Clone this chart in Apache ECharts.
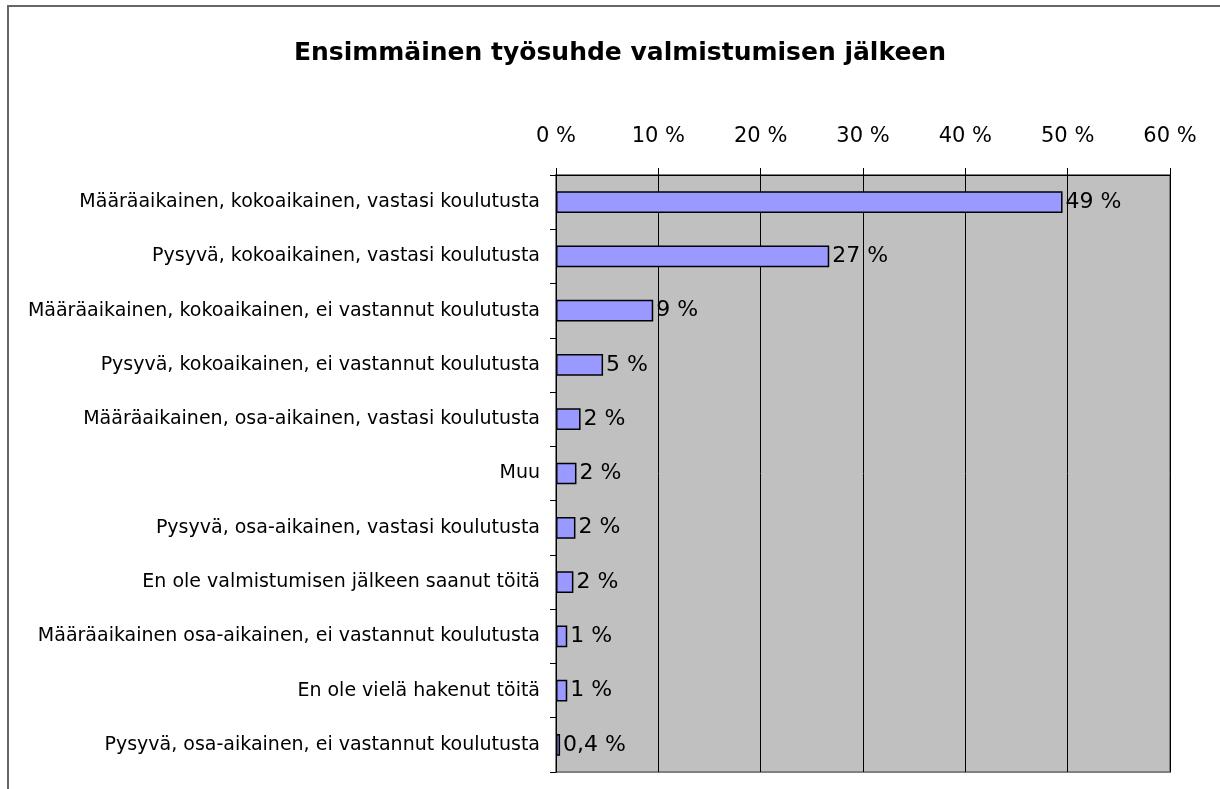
<!DOCTYPE html>
<html>
<head>
<meta charset="utf-8">
<script src="https://cdn.jsdelivr.net/npm/echarts@6/dist/echarts.min.js"></script>
<style>
  html, body { margin: 0; padding: 0; background: #fff; }
  #chart { width: 1220px; height: 789px; }
  .frame {
    position: absolute; left: 7px; top: 5px; right: 0; bottom: 0;
    border-left: 2px solid #666; border-top: 2px solid #666;
    pointer-events: none;
  }
</style>
</head>
<body>
<div id="chart"></div>
<div class="frame"></div>
<script>
// luokat ylhäältä alas
const categories = [
  'Määräaikainen, kokoaikainen, vastasi koulutusta',
  'Pysyvä, kokoaikainen, vastasi koulutusta',
  'Määräaikainen, kokoaikainen, ei vastannut koulutusta',
  'Pysyvä, kokoaikainen, ei vastannut koulutusta',
  'Määräaikainen, osa-aikainen, vastasi koulutusta',
  'Muu',
  'Pysyvä, osa-aikainen, vastasi koulutusta',
  'En ole valmistumisen jälkeen saanut töitä',
  'Määräaikainen osa-aikainen, ei vastannut koulutusta',
  'En ole vielä hakenut töitä',
  'Pysyvä, osa-aikainen, ei vastannut koulutusta'
]
const values = [49.5, 26.7, 9.5, 4.6, 2.4, 2.0, 1.9, 1.7, 1.1, 1.1, 0.4]
const valueLabels = ['49 %', '27 %', '9 %', '5 %', '2 %', '2 %', '2 %', '2 %', '1 %', '1 %', '0,4 %']
const tickValues = [0, 10, 20, 30, 40, 50, 60]

const chart = echarts.init(document.getElementById('chart'))

chart.setOption({
  animation: false,
  title: {
    text: 'Ensimmäinen työsuhde valmistumisen jälkeen',
    left: 615,
    textAlign: 'center',
    top: 36,
    textStyle: {
      fontFamily: 'DejaVu Sans',
      fontWeight: 'bold',
      fontSize: 25,
      color: '#000'
    }
  },
  grid: {
    left: 556,
    right: 50,
    top: 175,
    bottom: 17,
    show: true,
    backgroundColor: '#C0C0C0',
    borderColor: '#808080',
    borderWidth: 2
  },
  xAxis: {
    type: 'value',
    position: 'top',
    min: 0,
    max: 60,
    interval: 10,
    axisLine: { show: true, lineStyle: { color: '#000', width: 1 } },
    axisTick: { show: true, inside: false, length: 7, lineStyle: { color: '#000' } },
    splitLine: { show: true, lineStyle: { color: '#000', width: 1 } },
    axisLabel: {
      margin: 28,
      fontFamily: 'DejaVu Sans',
      fontSize: 21,
      color: '#000',
      formatter: v => tickValues.includes(v) ? v + ' %' : ''
    }
  },
  yAxis: {
    type: 'category',
    inverse: true,
    data: categories,
    axisLine: { show: true, lineStyle: { color: '#000', width: 1 } },
    axisTick: { show: true, length: 6, lineStyle: { color: '#000' } },
    axisLabel: {
      margin: 16,
      fontFamily: 'DejaVu Sans',
      fontSize: 19,
      color: '#000'
    }
  },
  series: [{
    type: 'bar',
    data: values,
    barWidth: '40%',
    itemStyle: {
      color: '#9999FF',
      borderColor: '#000',
      borderWidth: 1.5
    },
    label: {
      show: true,
      position: 'right',
      distance: 3,
      fontFamily: 'DejaVu Sans',
      fontSize: 22,
      color: '#000',
      formatter: p => valueLabels[p.dataIndex]
    }
  }]
})
</script>
</body>
</html>
